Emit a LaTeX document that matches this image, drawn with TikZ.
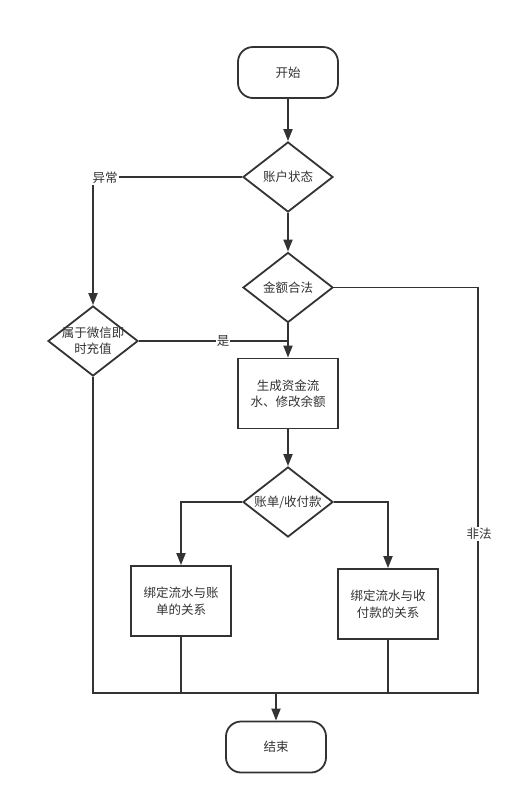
\documentclass[tikz,border=0pt]{standalone}
\usepackage{fontspec}
\setmainfont{Noto Sans CJK SC}
\usetikzlibrary{shapes.geometric,arrows.meta}
\definecolor{ink}{HTML}{333333}
\tikzset{
  every node/.style={font=\fontsize{12.5}{16.5}\selectfont, text=ink},
  terminal/.style={draw=ink, line width=1.8pt, rounded corners=15pt, minimum width=100pt, minimum height=51pt, inner sep=0pt},
  procbox/.style={draw=ink, line width=1.8pt, minimum width=100pt, minimum height=70pt, inner sep=0pt, align=center},
  decision/.style={draw=ink, line width=1.8pt, diamond, minimum width=90pt, minimum height=70pt, inner sep=0pt},
  conn/.style={draw=ink, line width=1.8pt},
  arr/.style={conn, -{Triangle[length=12pt,width=9pt]}},
  lbl/.style={fill=white, inner sep=1pt}
}
\begin{document}
\begin{tikzpicture}[x=1pt,y=-1pt]
\useasboundingbox (0,0) rectangle (514,804);
\node[terminal] (start) at (288,72.5) {开始};
\node[decision, label={center:账户状态}] (s1) at (288,177) {};
\node[decision, label={center:金额合法}] (s2) at (288,287.5) {};
\node[decision, label={[align=center]center:属于微信即\\时充值}] (q) at (93,341) {};
\node[procbox] (proc) at (288,393.5) {生成资金流\\水、修改余额};
\node[decision, label={center:账单/收付款}] (s3) at (288,502) {};
\node[procbox] (b1) at (181,601) {绑定流水与账\\单的关系};
\node[procbox] (b2) at (388,604) {绑定流水与收\\付款的关系};
\node[terminal] (fin) at (276,747) {结束};
\coordinate (j) at (276,693);
\coordinate (c1) at (93,177);
\coordinate (c3) at (478,693);
\coordinate (m) at (288,341);

\draw[arr] (start) -- (s1);
\draw[arr] (s1.south) -- (s2.north);
\draw[arr] (s2.south) -- (proc.north);
\draw[arr] (proc.south) -- (s3.north);
\draw[arr] (s1.west) -- (c1) -- (q.north);
\node[lbl] (l1) at (105,178) {异常};
\draw[conn] (q.east) -- (m);
\node[lbl] (l2) at (223,341) {是};
\draw[conn] (s2.east) -| (c3) -- (j);
\node[lbl] (l3) at (479,534) {非法};
\draw[arr] (s3.west) -| (b1.north);
\draw[arr] (s3.east) -| (b2.north);
\draw[conn] (q.south) |- (j);
\draw[conn] (b1.south) |- (j);
\draw[conn] (b2.south) |- (j);
\draw[arr] (j) -- (fin.north);
\end{tikzpicture}
\end{document}
